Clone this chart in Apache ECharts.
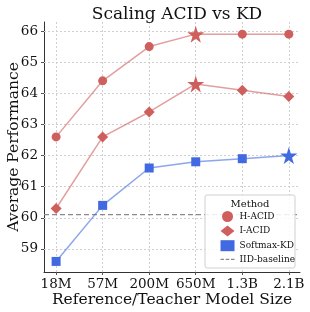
<!DOCTYPE html>
<html><head><meta charset="utf-8">
<script src="https://cdn.jsdelivr.net/npm/echarts@6/dist/echarts.min.js"></script>
<style>html,body{margin:0;padding:0;background:#fff}#c{width:310px;height:312px}</style>
</head><body><div id="c"></div>
<script>
const categories = ['18M','57M','200M','650M','1.3B','2.1B'];
const hAcid = [62.6, 64.4, 65.5, 65.9, 65.9, 65.9];
const iAcid = [60.3, 62.6, 63.4, 64.3, 64.1, 63.9];
const softmaxKD = [58.6, 60.4, 61.6, 61.8, 61.9, 62.0];
const bestIdx = {h: 3, i: 3, s: 5};
const iidBaseline = 60.1;
const yTicks = [59, 60, 61, 62, 63, 64, 65, 66];
const xTicks = [0, 1, 2, 3, 4, 5];
const X_MIN = -0.26, X_MAX = 5.24, Y_MIN = 58.26, Y_MAX = 66.29;

const STAR = 'path://M50,0 L61,35 L98,35 L68,57 L79,91 L50,70 L21,91 L32,57 L2,35 L39,35 Z';
const RED = '#cf5f5d', BLUE = '#4169e1';
const F = '"DejaVu Serif", serif';

function pts(arr, best, sym, size) {
  return arr.map((v, i) => i === best
    ? {value: [i, v], symbol: STAR, symbolSize: 17}
    : {value: [i, v], symbol: sym, symbolSize: size});
}
const gridLines = yTicks.map(v => [{coord: [X_MIN, v]}, {coord: [X_MAX, v]}])
  .concat(xTicks.map(v => [{coord: [v, Y_MIN]}, {coord: [v, Y_MAX]}]));

const chart = echarts.init(document.getElementById('c'));
chart.setOption({
  animation: false,
  title: {text: 'Scaling ACID vs KD', left: 172, top: 1, textAlign: 'center',
    textStyle: {fontFamily: F, fontSize: 17, fontWeight: 'normal', color: '#111'}},
  grid: {left: 44, top: 22, right: 10, bottom: 40, containLabel: false, outerBoundsMode: 'none'},
  xAxis: {type: 'value', min: X_MIN, max: X_MAX,
    axisLine: {onZero: false, lineStyle: {color: '#333', width: 1}},
    axisTick: {show: true, length: 3, lineStyle: {color: '#555'}, customValues: xTicks},
    axisLabel: {fontFamily: F, fontSize: 13.5, color: '#111', margin: 5, customValues: xTicks,
      formatter: v => categories[Math.round(v)]},
    splitLine: {show: false},
    name: 'Reference/Teacher Model Size', nameLocation: 'middle', nameGap: 20, nameMoveOverlap: false,
    nameTextStyle: {fontFamily: F, fontSize: 15.5, color: '#111', verticalAlign: 'top'}},
  yAxis: {type: 'value', min: Y_MIN, max: Y_MAX,
    axisLine: {show: true, onZero: false, lineStyle: {color: '#333', width: 1}},
    axisTick: {show: true, length: 3, lineStyle: {color: '#555'}, customValues: yTicks},
    axisLabel: {fontFamily: F, fontSize: 13.5, color: '#111', margin: 6, customValues: yTicks},
    splitLine: {show: false},
    name: 'Average Performance', nameLocation: 'middle', nameGap: 22, nameMoveOverlap: false,
    nameTextStyle: {fontFamily: F, fontSize: 15.5, color: '#111', verticalAlign: 'bottom'}},
  legend: {
    right: 15, top: 211, orient: 'vertical', itemGap: 3.6, itemWidth: 14, itemHeight: 11, z: 100,
    padding: [0, 0, 0, 0],
    textStyle: {fontFamily: F, fontSize: 9, color: '#111'},
    data: [
      {name: 'H-ACID', icon: 'circle'},
      {name: 'I-ACID', icon: 'diamond'},
      {name: 'Softmax-KD', icon: 'rect'},
      {name: 'IID-baseline', icon: 'path://M0,0h4v1.4h-4z M6,0h4v1.4h-4z M12,0h4v1.4h-4z'}
    ]
  },
  graphic: [
    {type: 'rect', shape: {x: 205, y: 195, width: 90, height: 73, r: 2},
      style: {fill: 'rgba(255,255,255,0.85)', stroke: '#d0d0d0', lineWidth: 1}, z: 50},
    {type: 'text', x: 250, y: 199, z: 60,
      style: {text: 'Method', fontFamily: F, fontSize: 10, fill: '#111', textAlign: 'center'}}
  ],
  series: [
    {name: 'H-ACID', type: 'line', data: pts(hAcid, bestIdx.h, 'circle', 9),
      itemStyle: {color: RED, opacity: 1}, lineStyle: {color: 'rgba(207,95,93,0.6)', width: 1.5}, z: 3},
    {name: 'I-ACID', type: 'line', data: pts(iAcid, bestIdx.i, 'diamond', 11),
      itemStyle: {color: RED}, lineStyle: {color: 'rgba(207,95,93,0.6)', width: 1.5}, z: 3},
    {name: 'Softmax-KD', type: 'line', data: pts(softmaxKD, bestIdx.s, 'rect', 9),
      itemStyle: {color: BLUE}, lineStyle: {color: 'rgba(65,105,225,0.6)', width: 1.5}, z: 3},
    {name: 'IID-baseline', type: 'line', data: [[X_MIN, iidBaseline], [X_MAX, iidBaseline]],
      symbol: 'none', itemStyle: {color: '#8a8a8a'},
      lineStyle: {color: '#8a8a8a', type: [5, 3], width: 1.3}, z: 2,
      markLine: {silent: true, symbol: ['none', 'none'], label: {show: false}, z: 1,
        lineStyle: {color: '#cfcfcf', type: [2, 2], width: 1},
        emphasis: {disabled: true},
        data: gridLines}}
  ]
});
</script></body></html>
